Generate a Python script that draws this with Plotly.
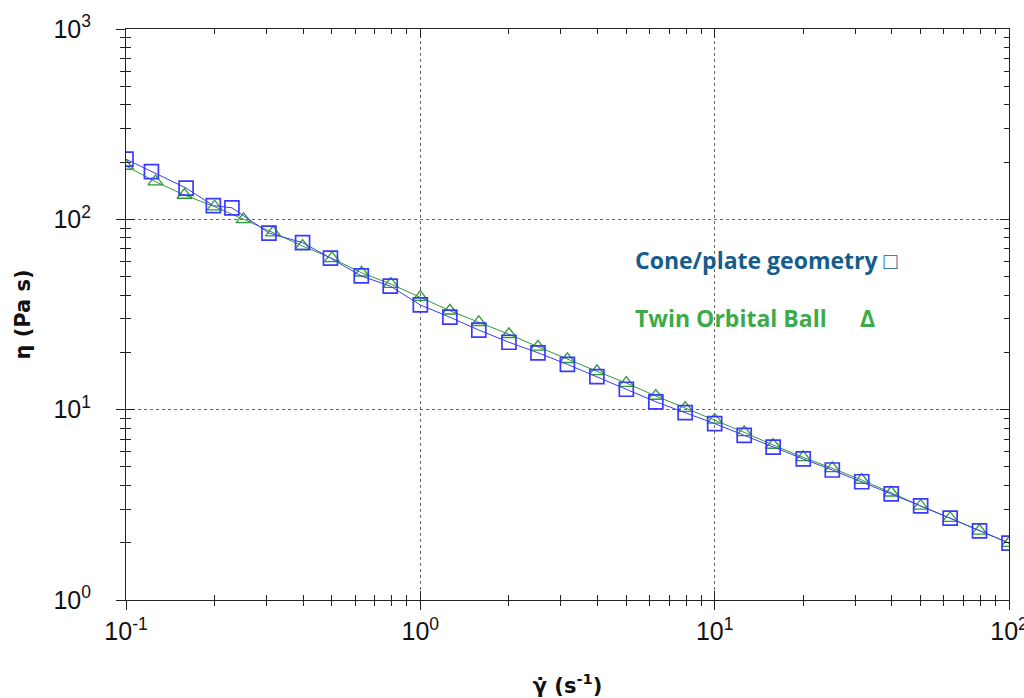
import plotly.graph_objects as go

# Shear rate (1/s) and viscosity (Pa s)
cone_x = [0.1, 0.122, 0.16, 0.198, 0.229, 0.306, 0.398, 0.495, 0.63, 0.79,
          1.0, 1.26, 1.58, 2.0, 2.51, 3.16, 3.98, 5.01, 6.31, 7.94,
          10, 12.6, 15.8, 20, 25.1, 31.6, 39.8, 50.1, 63.1, 79.4, 100]
cone_eta = [207, 178, 146, 118, 115, 84.7, 75.4, 62.6, 50.4, 44.6,
            35.5, 30.6, 26.2, 22.6, 19.9, 17.3, 14.9, 12.8, 11.0, 9.64,
            8.45, 7.33, 6.36, 5.51, 4.82, 4.18, 3.61, 3.12, 2.69, 2.31, 1.99]

tob_x = [0.1, 0.126, 0.158, 0.2, 0.251, 0.316, 0.398, 0.501, 0.631, 0.794,
         1.0, 1.26, 1.58, 2.0, 2.51, 3.16, 3.98, 5.01, 6.31, 7.94,
         10, 12.6, 15.8, 20, 25.1, 31.6, 39.8, 50.1, 63.1, 79.4, 100]
tob_eta = [190.6, 157.7, 134.2, 116.5, 100, 85.1, 72.4, 62.4, 52.4, 45.7,
           39.0, 33.1, 28.8, 24.9, 21.4, 18.4, 15.9, 13.8, 11.8, 10.2,
           8.83, 7.60, 6.52, 5.62, 4.92, 4.27, 3.66, 3.12, 2.69, 2.31, 1.99]

x_tickvals = [0.1, 1, 10, 100]
x_ticktext = ["10<sup>-1</sup>", "10<sup>0</sup>", "10<sup>1</sup>", "10<sup>2</sup>"]
y_tickvals = [1, 10, 100, 1000]
y_ticktext = ["10<sup>0</sup>", "10<sup>1</sup>", "10<sup>2</sup>", "10<sup>3</sup>"]

x_title = "γ̇ (s<sup>-1</sup>)"
y_title = "η (Pa s)"
label_cone = "Cone/plate geometry □"
label_tob = "Twin Orbital Ball"
label_tob_sym = "Δ"

BLUE = "#3a3aff"
GREEN = "#2f9a37"
TICKFONT = dict(family="Liberation Sans Narrow, Liberation Sans, Arial", size=25, color="#111")
TITLEFONT = dict(family="DejaVu Sans, Liberation Sans, Arial", size=21, color="#111", weight="bold")

fig = go.Figure()
fig.add_trace(go.Scatter(
    x=tob_x, y=tob_eta, mode="lines+markers",
    line=dict(color=GREEN, width=1),
    marker=dict(symbol="triangle-up-open", size=13, color=GREEN, line=dict(width=1.3, color=GREEN)),
    showlegend=False))
fig.add_trace(go.Scatter(
    x=cone_x, y=cone_eta, mode="lines+markers",
    line=dict(color=BLUE, width=1),
    marker=dict(symbol="square-open", size=14, color=BLUE, line=dict(width=1.7, color=BLUE)),
    showlegend=False))

common_x = dict(type="log", range=[-1, 2], automargin=False)
common_y = dict(type="log", range=[0, 3], automargin=False)

fig.update_layout(
    width=1024, height=698,
    margin=dict(l=126, r=15, t=29, b=98),
    paper_bgcolor="white", plot_bgcolor="white",
    xaxis=dict(**common_x, tickmode="array", tickvals=x_tickvals, ticktext=x_ticktext,
               ticks="outside", ticklen=9, tickwidth=1, tickcolor="#222",
               showline=True, linecolor="#222", linewidth=1, mirror=True,
               showgrid=True, gridcolor="#666", griddash="dot", gridwidth=1,
               minor=dict(ticks="outside", ticklen=5, tickcolor="#222", dtick="D1", showgrid=False),
               tickfont=TICKFONT, ticklabelstandoff=0, ticklabeloverflow="allow",
               zeroline=False,
               title=dict(text=x_title, font=TITLEFONT, standoff=34)),
    yaxis=dict(**common_y, tickmode="array", tickvals=y_tickvals, ticktext=y_ticktext,
               ticks="outside", ticklen=9, tickwidth=1, tickcolor="#222",
               showline=True, linecolor="#222", linewidth=1, mirror=True,
               showgrid=True, gridcolor="#666", griddash="dot", gridwidth=1,
               minor=dict(ticks="outside", ticklen=5, tickcolor="#222", dtick="D1", showgrid=False),
               tickfont=TICKFONT, ticklabelstandoff=20, ticklabeloverflow="allow",
               zeroline=False,
               title=dict(text=y_title, font=TITLEFONT, standoff=17)),
    xaxis2=dict(**common_x, overlaying="x", ticks="inside", ticklen=9, tickwidth=1, tickcolor="#222",
                mirror="ticks", showline=False, showgrid=False, showticklabels=False, zeroline=False,
                tickmode="array", tickvals=x_tickvals,
                minor=dict(ticks="inside", ticklen=5, tickcolor="#222", dtick="D1", showgrid=False)),
    yaxis2=dict(**common_y, overlaying="y", ticks="inside", ticklen=9, tickwidth=1, tickcolor="#222",
                mirror="ticks", showline=False, showgrid=False, showticklabels=False, zeroline=False,
                tickmode="array", tickvals=y_tickvals,
                minor=dict(ticks="inside", ticklen=5, tickcolor="#222", dtick="D1", showgrid=False)),
)
fig.add_trace(go.Scatter(x=[], y=[], xaxis="x2", yaxis="y2", showlegend=False, hoverinfo="skip"))

LEG_FONT = "Open Sans, Noto Sans, sans-serif"
fig.add_annotation(xref="paper", yref="paper", x=0.574, y=0.595, xanchor="left", yanchor="middle",
                   text=label_cone, showarrow=False,
                   font=dict(family=LEG_FONT, size=23, color="#165d8c", weight="bold"))
fig.add_annotation(xref="paper", yref="paper", x=0.574, y=0.494, xanchor="left", yanchor="middle",
                   text=label_tob, showarrow=False,
                   font=dict(family=LEG_FONT, size=23, color="#3daa4a", weight="bold"))
fig.add_annotation(xref="paper", yref="paper", x=0.840, y=0.494, xanchor="center", yanchor="middle",
                   text=label_tob_sym, showarrow=False,
                   font=dict(family=LEG_FONT, size=23, color="#3daa4a", weight="bold"))

fig.write_html("out.html", config={"displayModeBar": False},
               post_script="document.body.style.margin='0px';")
